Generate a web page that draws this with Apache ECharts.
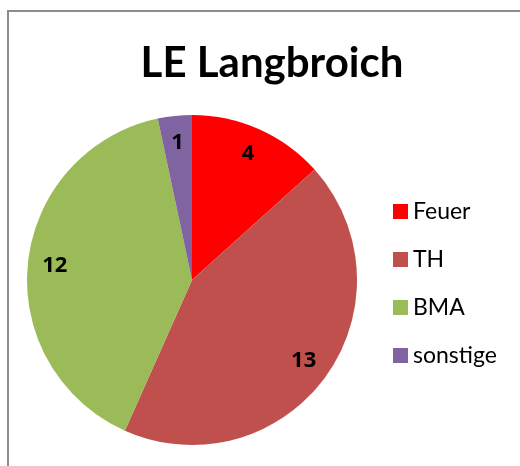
<!DOCTYPE html>
<html>
<head>
<meta charset="utf-8">
<script src="https://cdn.jsdelivr.net/npm/echarts@6/dist/echarts.min.js"></script>
<style>
  html, body { margin: 0; padding: 0; background: #fff; }
  #main { width: 520px; height: 466px; }
</style>
</head>
<body>
<div id="main"></div>
<script>
// data
var chartTitle = 'LE Langbroich';
var categories = ['Feuer', 'TH', 'BMA', 'sonstige'];
var counts = [4, 13, 12, 1];

var sliceColors = ['#ff0000', '#c0504d', '#9bbb59', '#8064a2'];

var pieData = categories.map(function (name, i) {
    return { name: name, value: counts[i] };
});

var option = {
    backgroundColor: '#fff',
    color: sliceColors,
    animation: false,
    title: {
        text: chartTitle,
        left: 267,
        top: 37,
        textAlign: 'center',
        textStyle: { fontFamily: 'Lato', fontWeight: 'bold', fontSize: 42, color: '#000' }
    },
    legend: {
        orient: 'vertical',
        left: 388,
        top: 195,
        icon: 'rect',
        itemWidth: 15,
        itemHeight: 15,
        itemGap: 25,
        data: categories,
        textStyle: { fontFamily: 'Lato', fontSize: 23, color: '#000', lineHeight: 23 }
    },
    graphic: [
        // chart frame, only top and left edges are in view
        { type: 'rect', shape: { x: 8, y: 11, width: 700, height: 700 }, style: { fill: 'none', stroke: '#8c8c8c', lineWidth: 2 }, silent: true }
    ],
    series: [
        // the pie itself
        {
            name: 'slices',
            type: 'pie',
            center: [192, 280],
            radius: [0, 165],
            startAngle: 90,
            clockwise: true,
            label: { show: false },
            labelLine: { show: false },
            emphasis: { disabled: true },
            data: pieData
        },
        // invisible twin, only there to put the value labels further out
        {
            name: 'labels',
            type: 'pie',
            center: [192, 280],
            radius: [0, 270],
            startAngle: 90,
            clockwise: true,
            silent: true,
            itemStyle: { color: 'rgba(0,0,0,0)' },
            label: {
                show: true,
                position: 'inside',
                formatter: '{c}',
                fontFamily: 'Open Sans',
                fontWeight: 'bold',
                fontSize: 22,
                color: '#000'
            },
            labelLine: { show: false },
            emphasis: { disabled: true },
            data: pieData
        }
    ]
};

var myChart = echarts.init(document.getElementById('main'));
myChart.setOption(option);
</script>
</body>
</html>
